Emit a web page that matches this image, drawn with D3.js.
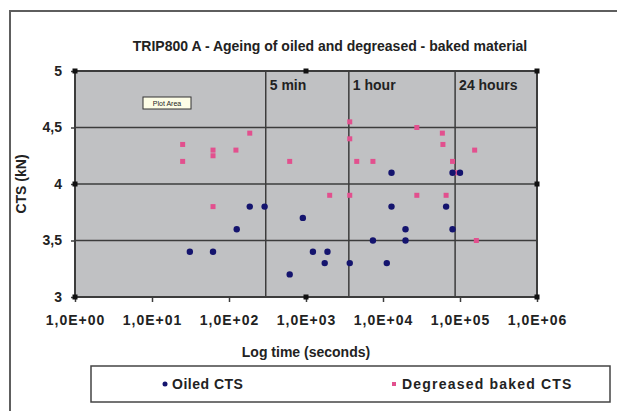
<!DOCTYPE html>
<html>
<head>
<meta charset="utf-8">
<script src="https://cdn.jsdelivr.net/npm/d3@7"></script>
<style>
  html, body { margin: 0; padding: 0; background: #ffffff; }
  svg { display: block; font-family: "Liberation Sans", Arial, sans-serif; }
</style>
</head>
<body>
<svg id="chart" width="617" height="411"></svg>
<script>
// Oiled material: ageing time (s) and cross-tension strength (kN)
const oiledTime = [31, 62, 126, 186, 290, 614, 910, 1230, 1750, 1900, 3700, 7400, 11200,
                   12900, 12900, 19600, 19600, 66000, 80000, 80000, 100000];
const oiledCTS  = [3.4, 3.4, 3.6, 3.8, 3.8, 3.2, 3.7, 3.4, 3.3, 3.4, 3.3, 3.5, 3.3,
                   4.1, 3.8, 3.6, 3.5, 3.8, 3.6, 4.1, 4.1];

// Degreased and baked material
const degrTime = [25, 25, 62, 62, 62, 123, 186, 614, 2030, 3700, 3700, 3700, 4560, 7400,
                  27500, 27500, 59000, 60000, 66000, 80000, 90000, 155000, 163000];
const degrCTS  = [4.35, 4.2, 4.3, 4.25, 3.8, 4.3, 4.45, 4.2, 3.9, 4.55, 4.4, 3.9, 4.2, 4.2,
                  4.5, 3.9, 4.45, 4.35, 3.9, 4.2, 4.1, 4.3, 3.5];

// Reference times marked by vertical lines
const markTimes  = [300, 3600, 86400];
const markLabels = ["5 min", "1 hour", "24 hours"];

// Axis ticks
const xTicks      = [1, 10, 100, 1000, 10000, 100000, 1000000];
const xTickLabels = ["1,0E+00", "1,0E+01", "1,0E+02", "1,0E+03", "1,0E+04", "1,0E+05", "1,0E+06"];
const yTicks      = [3, 3.5, 4, 4.5, 5];
const yTickLabels = ["3", "3,5", "4", "4,5", "5"];

const seriesNames = ["Oiled CTS", "Degreased baked CTS"];

const svg = d3.select("#chart");
const plot = { left: 75, right: 537, top: 71, bottom: 297 };

const x = d3.scaleLog().domain([1, 1e6]).range([plot.left, plot.right]);
const y = d3.scaleLinear().domain([3, 5]).range([plot.bottom, plot.top]);

const ink = "#222";
const gridCol = "#3c3c3c";
const blue = "#14146e";
const pink = "#e2508e";

// chart frame (upper and left edge)
svg.append("path")
  .attr("d", "M10,411 L10,11 L617,11")
  .attr("fill", "none").attr("stroke", "#5e5e5e").attr("stroke-width", 2);

// title
svg.append("text")
  .attr("x", 330).attr("y", 51)
  .attr("text-anchor", "middle")
  .attr("font-size", 14).attr("font-weight", "bold").attr("fill", ink)
  .text("TRIP800 A - Ageing of oiled and degreased - baked material");

// plot area
svg.append("rect")
  .attr("x", plot.left).attr("y", plot.top)
  .attr("width", plot.right - plot.left).attr("height", plot.bottom - plot.top)
  .attr("fill", "#c0c1c3");

// horizontal gridlines
svg.append("g").selectAll("line").data(yTicks.slice(1, -1)).join("line")
  .attr("x1", plot.left).attr("x2", plot.right)
  .attr("y1", d => y(d)).attr("y2", d => y(d))
  .attr("stroke", gridCol).attr("stroke-width", 1.5);

// vertical lines at 5 min / 1 hour / 24 hours
svg.append("g").selectAll("line").data(markTimes).join("line")
  .attr("x1", d => x(d)).attr("x2", d => x(d))
  .attr("y1", plot.top).attr("y2", plot.bottom)
  .attr("stroke", gridCol).attr("stroke-width", 1.5);

svg.append("g").selectAll("text").data(markTimes).join("text")
  .attr("x", d => x(d) + 4).attr("y", 90)
  .attr("font-size", 14).attr("font-weight", "bold").attr("fill", ink)
  .text((d, i) => markLabels[i]);

// plot border
svg.append("rect")
  .attr("x", plot.left).attr("y", plot.top)
  .attr("width", plot.right - plot.left).attr("height", plot.bottom - plot.top)
  .attr("fill", "none").attr("stroke", gridCol).attr("stroke-width", 2);

// axes
const xAxis = d3.axisBottom(x).tickValues(xTicks)
  .tickFormat((d, i) => xTickLabels[i]).tickSize(5).tickPadding(13);
const gx = svg.append("g").attr("transform", `translate(0,${plot.bottom})`).call(xAxis);
gx.select(".domain").remove();
gx.selectAll(".tick line").attr("stroke", gridCol).attr("stroke-width", 1.5);
gx.selectAll(".tick text")
  .attr("font-family", "Liberation Sans, Arial, sans-serif")
  .attr("font-size", 14).attr("font-weight", "bold").attr("fill", ink)
  .attr("letter-spacing", 1);

const yAxis = d3.axisLeft(y).tickValues(yTicks)
  .tickFormat((d, i) => yTickLabels[i]).tickSize(4).tickPadding(9);
const gy = svg.append("g").attr("transform", `translate(${plot.left},0)`).call(yAxis);
gy.select(".domain").remove();
gy.selectAll(".tick line").attr("stroke", gridCol).attr("stroke-width", 1.5);
gy.selectAll(".tick text")
  .attr("font-family", "Liberation Sans, Arial, sans-serif")
  .attr("font-size", 14).attr("font-weight", "bold").attr("fill", ink);

// axis titles
svg.append("text")
  .attr("x", (plot.left + plot.right) / 2).attr("y", 357)
  .attr("text-anchor", "middle")
  .attr("font-size", 14).attr("font-weight", "bold").attr("fill", ink)
  .text("Log time (seconds)");

svg.append("text")
  .attr("transform", `translate(26,${(plot.top + plot.bottom) / 2}) rotate(-90)`)
  .attr("text-anchor", "middle")
  .attr("font-size", 14).attr("font-weight", "bold").attr("fill", ink)
  .text("CTS (kN)");

// "Plot Area" tooltip
const tip = svg.append("g").attr("transform", "translate(143,97)");
tip.append("rect").attr("width", 48).attr("height", 12)
  .attr("fill", "#fdfde6").attr("stroke", "#333").attr("stroke-width", 1);
tip.append("text").attr("x", 24).attr("y", 9).attr("text-anchor", "middle")
  .attr("font-size", 7).attr("fill", "#222").text("Plot Area");

// data points
svg.append("g").selectAll("rect").data(degrTime.map((t, i) => [t, degrCTS[i]])).join("rect")
  .attr("x", d => x(d[0]) - 2.5).attr("y", d => y(d[1]) - 2.5)
  .attr("width", 5).attr("height", 5)
  .attr("fill", pink);

svg.append("g").selectAll("circle").data(oiledTime.map((t, i) => [t, oiledCTS[i]])).join("circle")
  .attr("cx", d => x(d[0])).attr("cy", d => y(d[1]))
  .attr("r", 3.2)
  .attr("fill", blue);

// selection handles of the plot area
const hx = [plot.left, (plot.left + plot.right) / 2, plot.right];
const hy = [plot.top, (plot.top + plot.bottom) / 2, plot.bottom];
const handles = [];
hx.forEach((px, i) => hy.forEach((py, j) => { if (!(i === 1 && j === 1)) handles.push([px, py]); }));
svg.append("g").selectAll("rect").data(handles).join("rect")
  .attr("x", d => d[0] - 2.5).attr("y", d => d[1] - 2.5)
  .attr("width", 5).attr("height", 5).attr("fill", "#111");

// legend
const leg = svg.append("g");
leg.append("rect").attr("x", 91).attr("y", 366).attr("width", 519).attr("height", 36)
  .attr("fill", "#fff").attr("stroke", "#444").attr("stroke-width", 1.5);
leg.append("circle").attr("cx", 165).attr("cy", 384).attr("r", 2.5).attr("fill", blue);
leg.append("text").attr("x", 172).attr("y", 389)
  .attr("font-size", 14).attr("font-weight", "bold").attr("fill", ink)
  .attr("letter-spacing", 0.5).text(seriesNames[0]);
leg.append("rect").attr("x", 392).attr("y", 382).attr("width", 4).attr("height", 4).attr("fill", pink);
leg.append("text").attr("x", 402).attr("y", 389)
  .attr("font-size", 14).attr("font-weight", "bold").attr("fill", ink)
  .attr("letter-spacing", 1.2).text(seriesNames[1]);
</script>
</body>
</html>
